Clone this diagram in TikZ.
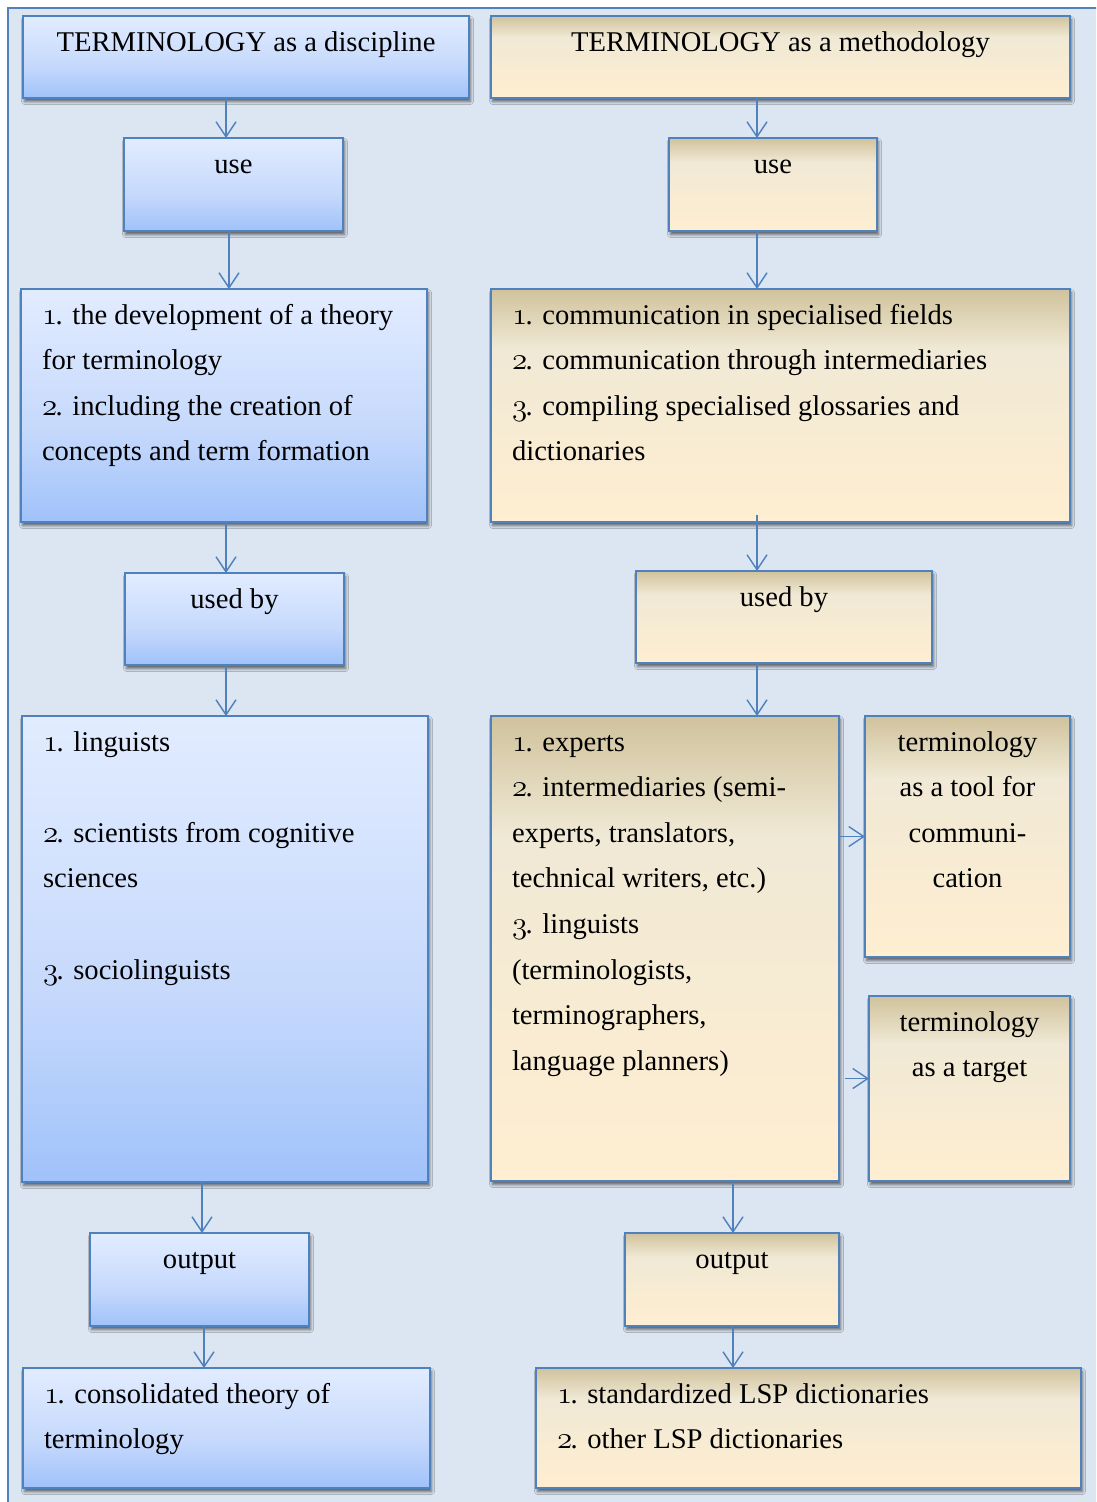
\RequirePackage{fix-cm}
\documentclass[tikz,border=0pt]{standalone}
\usepackage{fontspec}
\setmainfont{Liberation Serif}
\usetikzlibrary{arrows.meta,shadows.blur}

\definecolor{pagebg}{HTML}{DCE6F2}
\definecolor{edge}{HTML}{4F81BD}
\definecolor{bluetop}{HTML}{E2ECFF}
\definecolor{bluemid}{HTML}{C6D9FC}
\definecolor{bluebot}{HTML}{A0C2FA}
\definecolor{tantop}{HTML}{D0C29C}
\definecolor{tanmid}{HTML}{F0E9D5}
\definecolor{tanbot}{HTML}{FFEED1}

% vertical fills: the path spans 25bp (bottom) to 75bp (top)
\pgfdeclareverticalshading{blueshade}{100bp}{color(0bp)=(bluebot); color(25bp)=(bluebot); color(45bp)=(bluemid); color(75bp)=(bluetop); color(100bp)=(bluetop)}
\pgfdeclareverticalshading{tanshade}{100bp}{color(0bp)=(tanbot); color(25bp)=(tanbot); color(62bp)=(tanmid); color(75bp)=(tantop); color(100bp)=(tantop)}

% old-style figures for the list numbers
\newcommand\onum[1]{{\fontsize{31pt}{45.6pt}\usefont{OML}{cmm}{m}{it}#1}\kern-1.5pt}
% box contents: fixed-size paragraph, first baseline 35pt below the top
\newcommand\ctext[3]{\parbox[c][#2][t]{#1}{\centering\rule{0pt}{35pt}#3}}
\newcommand\ltext[3]{\parbox[c][#2][t]{#1}{\raggedright\leftskip=21pt\rule{0pt}{35pt}#3}}

\tikzset{
  box/.style={draw=edge, line width=1.3pt, inner sep=0pt, outer sep=0pt,
    anchor=north west,
    blur shadow={shadow xshift=1.5pt, shadow yshift=-3.5pt, shadow blur radius=3pt, shadow opacity=60}},
  bluebox/.style={box, shading=blueshade},
  tanbox/.style={box, shading=tanshade},
  arr/.style={draw=edge, line width=1.4pt, -{Straight Barb[length=15pt, width=20pt]}},
}

\begin{document}
\begin{tikzpicture}[x=1pt, y=-1pt, font=\fontsize{28.6pt}{45.6pt}\selectfont]
\useasboundingbox (0,0) rectangle (1096,1502);
\clip (0,0) rectangle (1096,1502);
\fill[white] (0,0) rectangle (1096,1502);
\draw[draw=edge, line width=1.3pt, fill=pagebg] (8,8) rectangle (1130,1540);

% discipline column
\node[bluebox] (L1) at (23,16)   {\ctext{446pt}{82pt}{TERMINOLOGY as a discipline}};
\node[bluebox] (L2) at (124,138) {\ctext{219pt}{93pt}{use}};
\node[bluebox] (L3) at (21,289)  {\ltext{406pt}{233pt}{\onum{1}. the development of a theory\\for terminology\\\onum{2}. including the creation of\\concepts and term formation}};
\node[bluebox] (L4) at (125,573) {\ctext{219pt}{92pt}{used by}};
\node[bluebox] (L5) at (22,716)  {\ltext{406pt}{466pt}{\onum{1}. linguists\\[45.6pt]\onum{2}. scientists from cognitive\\sciences\\[45.6pt]\onum{3}. sociolinguists}};
\node[bluebox] (L6) at (90,1233) {\ctext{219pt}{93pt}{output}};
\node[bluebox] (L7) at (23,1368) {\ltext{407pt}{120pt}{\onum{1}. consolidated theory of\\terminology}};

% methodology column
\node[tanbox] (R1) at (491,16)   {\ctext{579pt}{82pt}{TERMINOLOGY as a methodology}};
\node[tanbox] (R2) at (669,138)  {\ctext{208pt}{93pt}{use}};
\node[tanbox] (R3) at (491,289)  {\ltext{579pt}{233pt}{\onum{1}. communication in specialised fields\\\onum{2}. communication through intermediaries\\\onum{3}. compiling specialised glossaries and\\dictionaries}};
\node[tanbox] (R4) at (636,571)  {\ctext{296pt}{92pt}{used by}};
\node[tanbox] (R5) at (491,716)  {\ltext{348pt}{465pt}{\onum{1}. experts\\\onum{2}. intermediaries (semi-\\experts, translators,\\technical writers, etc.)\\\onum{3}. linguists\\(terminologists,\\terminographers,\\language planners)}};
\node[tanbox] (R6) at (865,716)  {\ctext{205pt}{241pt}{terminology\\as a tool for\\communi-\\cation}};
\node[tanbox] (R7) at (869,996)  {\ctext{201pt}{185pt}{terminology\\as a target}};
\node[tanbox] (R8) at (625,1233) {\ctext{214pt}{93pt}{output}};
\node[tanbox] (R9) at (536,1368) {\ltext{545pt}{120pt}{\onum{1}. standardized LSP dictionaries\\\onum{2}. other LSP dictionaries}};

% connectors
\draw[arr] ([xshift=-20pt]L1.south)  -- ([xshift=-20pt]L1.south |- L2.north);
\draw[arr] ([xshift=-4.5pt]L2.south) -- ([xshift=-4.5pt]L2.south |- L3.north);
\draw[arr] ([xshift=2pt]L3.south)    -- ([xshift=2pt]L3.south |- L4.north);
\draw[arr] ([xshift=-8.5pt]L4.south) -- ([xshift=-8.5pt]L4.south |- L5.north);
\draw[arr] ([xshift=-23pt]L5.south)  -- ([xshift=-23pt]L5.south |- L6.north);
\draw[arr] ([xshift=4.5pt]L6.south)  -- ([xshift=4.5pt]L6.south |- L7.north);

\draw[arr] ([xshift=-23.5pt]R1.south) -- ([xshift=-23.5pt]R1.south |- R2.north);
\draw[arr] ([xshift=-16pt]R2.south)   -- ([xshift=-16pt]R2.south |- R3.north);
\draw[arr] ([xshift=-23.5pt,yshift=7pt]R3.south) -- ([xshift=-23.5pt]R3.south |- R4.north);
\draw[arr] ([xshift=-27pt]R4.south)   -- ([xshift=-27pt]R4.south |- R5.north);
\draw[arr] ([xshift=68pt]R5.south)    -- ([xshift=68pt]R5.south |- R8.north);
\draw[arr] ([xshift=1pt]R8.south)     -- ([xshift=1pt]R8.south |- R9.north);

\coordinate (t6) at (R6.west);
\coordinate (t7) at ([yshift=10pt]R7.west);
\draw[arr] (R5.east |- t6) -- (t6);
\draw[arr] ([xshift=6pt]R5.east |- t7) -- (t7);
\end{tikzpicture}
\end{document}
